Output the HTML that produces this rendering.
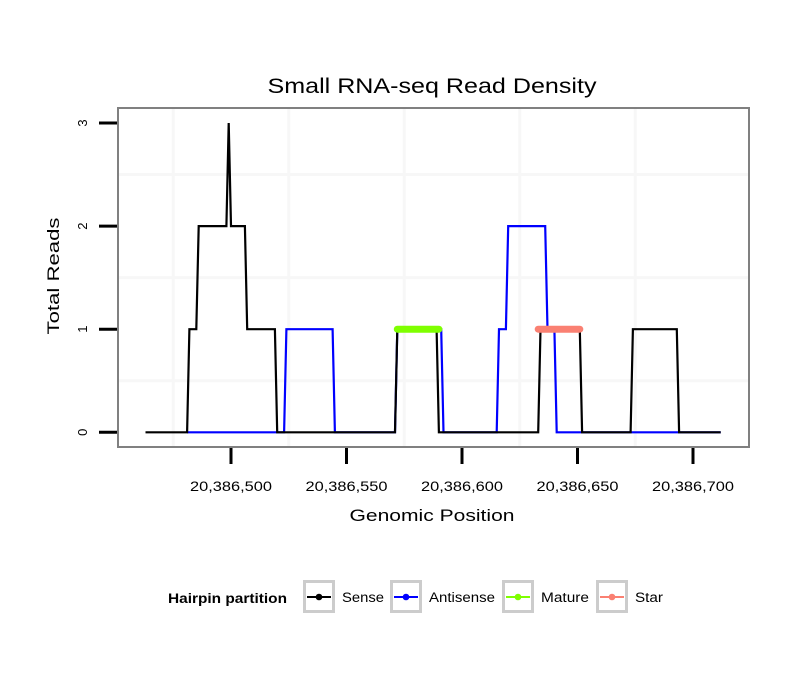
<!DOCTYPE html>
<html><head><meta charset="utf-8"><style>
body{margin:0;background:#fff;}
svg{display:block;font-family:"Liberation Sans",sans-serif;}
</style></head><body>
<svg id="chart" width="810" height="690" viewBox="0 0 810 690">
<rect width="810" height="690" fill="#fff"/>
<text x="432" y="93" font-size="21" text-anchor="middle" textLength="329" lengthAdjust="spacingAndGlyphs">Small RNA-seq Read Density</text>
<g id="grid"></g>
<g id="series"></g>
<rect x="118" y="108" width="631" height="339" fill="none" stroke="#808080" stroke-width="2"/>
<g id="axes"></g>
<text x="432" y="521" font-size="16.5" text-anchor="middle" textLength="165" lengthAdjust="spacingAndGlyphs">Genomic Position</text>
<text transform="translate(59,276) rotate(-90)" font-size="16.5" text-anchor="middle" textLength="117" lengthAdjust="spacingAndGlyphs">Total Reads</text>
<g>
<text x="168" y="603" font-size="13.5" font-weight="bold" textLength="119" lengthAdjust="spacingAndGlyphs">Hairpin partition</text>
</g>
<g id="legend"></g>
</svg>
<script>
const ns="http://www.w3.org/2000/svg";
const xTicks=[500,550,600,650,700];
const xTickLabels=["20,386,500","20,386,550","20,386,600","20,386,650","20,386,700"];
const yTicks=[0,1,2,3];
const senseX=[463,481,482,485,486,498,499,500,506,507,519,520,571,572,589,590,633,634,651,652,673,674,693,694,712];
const senseY=[0,0,1,1,2,2,3,2,2,1,1,0,0,1,1,0,0,1,1,0,0,1,1,0,0];
const antiX=[481,520,523,524,544,545,571,572,591,592,615,616,619,620,636,637,640,641,712];
const antiY=[0,0,0,1,1,0,0,1,1,0,0,1,1,2,2,1,1,0,0];
const matureX=[572,590];
const matureY=[1,1];
const starX=[633,651];
const starY=[1,1];
const legendNames=["Sense","Antisense","Mature","Star"];
const legendColors=["#000000","#0000ff","#7fff00","#fa8072"];
const legendWidths=[42,66,48,28];

function X(g){return 231+(g-500)*2.31;}
function Y(v){return 432.3-v*103.1;}
function mk(t,a,p){const e=document.createElementNS(ns,t);for(const k in a)e.setAttribute(k,a[k]);(p||document.getElementById('series')).appendChild(e);return e;}

const grid=document.getElementById('grid');
[475,525,575,625,675].forEach(g=>{const l=mk('line',{x1:X(g),x2:X(g),y1:109,y2:446,stroke:'#f7f7f7','stroke-width':3},grid);

});
[0.5,1.5,2.5].forEach(v=>{const l=mk('line',{x1:119,x2:748,y1:Y(v),y2:Y(v),stroke:'#f7f7f7','stroke-width':3},grid);

});

function path(xs,ys,color,w,cap,name){
  const d=xs.map((x,i)=>(i?'L':'M')+X(x).toFixed(1)+','+Y(ys[i]).toFixed(1)).join('');
  const p=mk('path',{d:d,fill:'none',stroke:color,'stroke-width':w,'stroke-linecap':cap,'stroke-linejoin':'miter'});
  
  
}
path(antiX,antiY,'#0000ff',2.2,'butt','antisense-line');
path(senseX,senseY,'#000000',2.2,'butt','sense-line');
path(matureX,matureY,'#7fff00',7,'round','mature-segment');
path(starX,starY,'#fa8072',7,'round','star-segment');

const axes=document.getElementById('axes');
xTicks.forEach((g,i)=>{
  const t=mk('line',{x1:X(g),x2:X(g),y1:448,y2:464,stroke:'#000','stroke-width':3},axes);
  
  
  const tx=mk('text',{x:X(g),y:491,'font-size':14,'text-anchor':'middle',textLength:82,lengthAdjust:'spacingAndGlyphs'},axes);
  tx.textContent=xTickLabels[i];
  
  
});
yTicks.forEach(v=>{
  const t=mk('line',{x1:99,x2:117,y1:Y(v),y2:Y(v),stroke:'#000','stroke-width':3},axes);
  
  
  const tx=mk('text',{transform:`translate(87,${Y(v)}) rotate(-90)`,'font-size':13,'text-anchor':'middle'},axes);
  tx.textContent=String(v);
  
  
});

const lg=document.getElementById('legend');
const keyX=[303,390,502,596];
legendNames.forEach((n,i)=>{
  const g=mk('g',{},lg);
  
  
  const x=keyX[i];
  mk('rect',{x:x+1.5,y:581.5,width:29,height:30,fill:'#fff',stroke:'#cccccc','stroke-width':3},g);
  mk('line',{x1:x+4,x2:x+28,y1:597,y2:597,stroke:legendColors[i],'stroke-width':2},g);
  mk('circle',{cx:x+16,cy:597,r:3.3,fill:legendColors[i]},g);
  const t=mk('text',{x:x+39,y:602,'font-size':13.5,textLength:legendWidths[i],lengthAdjust:'spacingAndGlyphs'},g);
  t.textContent=n;
});
</script>
</body></html>
